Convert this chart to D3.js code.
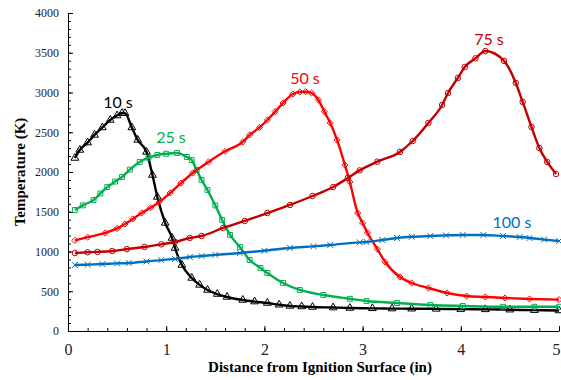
<!DOCTYPE html>
<html>
<head>
<meta charset="utf-8">
<script src="https://cdn.jsdelivr.net/npm/d3@7"></script>
<style>
  body { margin: 0; background: #fff; }
  svg { display: block; }
</style>
</head>
<body>
<svg width="561" height="380"></svg>
<script>

// data: distance (in) and temperature (K)
const t10x = [0.07,0.12,0.20,0.27,0.35,0.43,0.50,0.55,0.58,0.65,0.71,0.80,0.86,0.91,0.99,1.06,1.09,1.16,1.26,1.34,1.42,1.52,1.62,1.78,1.90,2.03,2.15,2.26,2.38,2.49,2.70,2.87,3.10,3.30,3.50,3.75,4.00,4.25,4.50,4.75,5.00];
const t10y = [2176,2277,2370,2466,2560,2654,2710,2742,2740,2560,2403,2252,1962,1686,1359,1170,1044,830,667,580,516,465,428,390,370,352,330,315,308,302,295,289,285,282,280,278,275,272,268,262,258];

const t25x = [0.07,0.15,0.26,0.33,0.40,0.48,0.55,0.63,0.73,0.82,0.91,1.00,1.11,1.21,1.26,1.31,1.36,1.42,1.50,1.57,1.65,1.75,1.85,1.96,2.03,2.19,2.36,2.60,2.87,3.04,3.35,3.69,4.02,4.43,4.75,5.00];
const t25y = [1522,1580,1648,1730,1811,1880,1937,2030,2126,2180,2214,2230,2239,2189,2150,2025,1900,1774,1580,1396,1208,1057,893,793,730,604,516,453,405,377,352,327,315,305,305,305];

const t50x = [0.07,0.20,0.38,0.50,0.58,0.66,0.75,0.84,0.93,1.04,1.15,1.27,1.43,1.60,1.78,1.85,1.95,2.03,2.11,2.19,2.29,2.36,2.42,2.48,2.55,2.61,2.67,2.74,2.82,2.87,2.95,3.00,3.05,3.15,3.23,3.38,3.50,3.67,3.86,4.06,4.25,4.45,4.70,5.00];
const t50y = [1140,1180,1233,1290,1346,1410,1484,1550,1623,1736,1860,1988,2126,2260,2378,2466,2560,2654,2760,2868,2981,3007,3010,2994,2906,2760,2617,2403,2088,1874,1484,1359,1233,1030,868,679,604,541,478,440,428,415,403,395];

const t75x = [0.07,0.20,0.30,0.45,0.60,0.78,0.95,1.09,1.24,1.36,1.58,1.80,2.03,2.26,2.49,2.70,2.85,2.97,3.15,3.38,3.51,3.67,3.81,3.87,3.97,4.04,4.15,4.25,4.44,4.56,4.63,4.72,4.80,4.88,4.97];
const t75y = [981,990,995,1006,1030,1057,1090,1120,1170,1195,1296,1384,1484,1585,1698,1811,1925,2020,2130,2252,2390,2617,2843,2994,3183,3321,3430,3522,3397,3120,2881,2566,2302,2126,1975];

const t100x = [0.07,0.20,0.35,0.50,0.62,0.80,0.95,1.09,1.24,1.36,1.50,1.75,2.00,2.26,2.50,2.67,2.97,3.04,3.20,3.35,3.50,3.69,3.85,4.02,4.23,4.43,4.60,4.70,4.85,5.00];
const t100y = [830,835,842,850,855,875,892,906,931,943,958,981,1010,1044,1065,1082,1115,1120,1145,1170,1185,1195,1203,1208,1208,1195,1182,1170,1150,1132];

const seriesNames = ['10 s', '25 s', '50 s', '75 s', '100 s'];
const xTicks = [0, 1, 2, 3, 4, 5];
const yTicks = [0, 500, 1000, 1500, 2000, 2500, 3000, 3500, 4000];

const serif = '"Liberation Serif", "Times New Roman", serif';

const svg = d3.select('svg');
const width = +svg.attr('width');
const height = +svg.attr('height');

const render = () => {
    const margin = { top: 13, right: 2, left: 68, bottom: 49 };
    const innerWidth = width - margin.left - margin.right;
    const innerHeight = height - margin.top - margin.bottom;

    const xScale = d3.scaleLinear().domain([0, 5]).range([0, innerWidth]);
    const yScale = d3.scaleLinear().domain([0, 4000]).range([innerHeight, 0]);

    const g = svg.append('g')
        .attr('transform', `translate(${margin.left}, ${margin.top})`);

    // minor ticks first, then the major axes on top
    g.append('g')
        .call(d3.axisLeft(yScale).tickValues(d3.range(0, 4001, 100)).tickSize(-3).tickFormat(''))
        .call(a => a.select('.domain').remove());
    g.append('g')
        .attr('transform', `translate(0, ${innerHeight})`)
        .call(d3.axisBottom(xScale).tickValues(d3.range(0, 5.001, 0.2)).tickSize(-3).tickFormat(''))
        .call(a => a.select('.domain').remove());

    const yAxisG = g.append('g')
        .attr('font-family', serif)
        .call(d3.axisLeft(yScale).tickValues(yTicks).tickFormat(d3.format('d'))
            .tickSize(-5).tickSizeOuter(0).tickPadding(9));
    yAxisG.attr('font-family', serif);
    yAxisG.selectAll('text')
        .style('font-family', serif)
        .attr('font-size', 12)
        .attr('fill', '#222');

    const xAxisG = g.append('g')
        .attr('transform', `translate(0, ${innerHeight})`)
        .call(d3.axisBottom(xScale).tickValues(xTicks).tickFormat(d3.format('d'))
            .tickSize(-5).tickSizeOuter(0).tickPadding(13));
    xAxisG.attr('font-family', serif);
    xAxisG.selectAll('text')
        .style('font-family', serif)
        .attr('font-size', 16)
        .attr('fill', '#222')
        .attr('dx', d => d === 5 ? -3 : 0);

    svg.selectAll('.domain, .tick line').attr('stroke', '#000');

    // axis titles
    svg.append('text')
        .attr('x', 320)
        .attr('y', 372)
        .attr('text-anchor', 'middle')
        .attr('font-family', serif)
        .attr('font-weight', 'bold')
        .attr('font-size', 15)
        .text('Distance from Ignition Surface (in)');

    svg.append('text')
        .attr('transform', 'translate(25, 172) rotate(-90)')
        .attr('text-anchor', 'middle')
        .attr('font-family', serif)
        .attr('font-weight', 'bold')
        .attr('font-size', 15)
        .text('Temperature (K)');

    const series = [
        { name: seriesNames[0], xs: t10x, ys: t10y, color: '#000000', symbol: d3.symbolTriangle, lx: 118, ly: 108 },
        { name: seriesNames[1], xs: t25x, ys: t25y, color: '#00B050', symbol: d3.symbolSquare, lx: 171, ly: 143 },
        { name: seriesNames[2], xs: t50x, ys: t50y, color: '#FF0000', symbol: d3.symbolDiamond2 || d3.symbolDiamond, lx: 305, ly: 84 },
        { name: seriesNames[3], xs: t75x, ys: t75y, color: '#C00000', symbol: d3.symbolCircle, lx: 489, ly: 45 },
        { name: seriesNames[4], xs: t100x, ys: t100y, color: '#0070C0', symbol: d3.symbolX || d3.symbolCross, lx: 512, ly: 228 }
    ];

    const line = d3.line()
        .x(d => xScale(d[0]))
        .y(d => yScale(d[1]))
        .curve(d3.curveMonotoneX);

    series.forEach(s => {
        const pts = s.xs.map((x, i) => [x, s.ys[i]]);
        g.append('path')
            .datum(pts)
            .attr('fill', 'none')
            .attr('stroke', s.color)
            .attr('stroke-width', 2.4)
            .attr('d', line);

        g.selectAll(null).data(pts)
            .enter().append('path')
            .attr('transform', d => `translate(${xScale(d[0])}, ${yScale(d[1])})`)
            .attr('d', d3.symbol().type(s.symbol).size(s.symbol === d3.symbolTriangle ? 26 : 24))
            .attr('fill', 'none')
            .attr('stroke', s.color)
            .attr('stroke-width', 1);

        svg.append('text')
            .attr('x', s.lx)
            .attr('y', s.ly)
            .attr('text-anchor', 'middle')
            .attr('font-family', 'Lato, "Open Sans", sans-serif')
            .attr('font-size', 16)
            .attr('fill', s.color)
            .text(s.name);
    });
};

render();
</script>
</body>
</html>
